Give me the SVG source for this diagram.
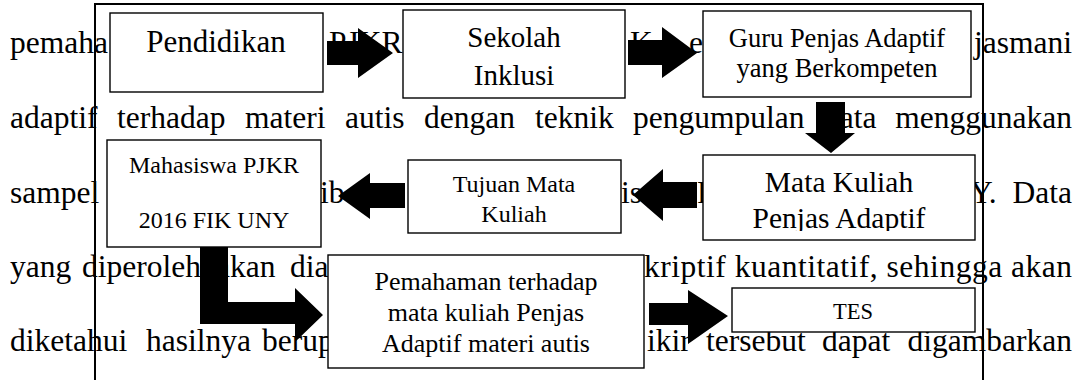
<svg xmlns="http://www.w3.org/2000/svg" width="1078" height="380" viewBox="0 0 1078 380" font-family="Liberation Serif, Times New Roman, serif">
<style>
.box{fill:#fff;stroke:#000;stroke-width:1.4}
.lbl{text-anchor:middle}
.arr{fill:#000;stroke:none}
.frame{fill:none;stroke:#000;stroke-width:2}
</style>
<defs>
<clipPath id="clipMK"><rect x="703" y="155" width="272" height="76"/></clipPath>
</defs>
<rect width="1078" height="380" fill="#fff"/>
<g id="background-text" font-family="Liberation Serif" font-size="31.5">
<text x="10" y="53">pemaha</text>
<text x="329" y="53">PJKR</text>
<text x="630" y="53">K</text>
<text x="689" y="53">e</text>
<text x="1072" y="53" text-anchor="end">jasmani</text>
<text y="128"><tspan x="10">adaptif</tspan><tspan x="117">terhadap</tspan><tspan x="245">materi</tspan><tspan x="345">autis</tspan><tspan x="424">dengan</tspan><tspan x="535">teknik</tspan><tspan x="633">pengumpulan</tspan><tspan x="824">data</tspan><tspan x="1072" text-anchor="end">menggunakan</tspan></text>
<text x="10" y="203">sampel</text>
<text x="320" y="203">ib</text>
<text x="621" y="203">is</text>
<text x="697" y="203">F</text>
<text x="970" y="203">Y.</text>
<text x="1072" y="203" text-anchor="end">Data</text>
<text y="277"><tspan x="10">yang</tspan><tspan x="82">diperoleh</tspan><tspan x="216">akan</tspan><tspan x="290">dian</tspan></text>
<text x="644" y="277" textLength="428" lengthAdjust="spacing">kriptif kuantitatif, sehingga akan</text>
<text y="351"><tspan x="10">diketahui</tspan><tspan x="146">hasilnya</tspan><tspan x="262">berup</tspan></text>
<text y="351"><tspan x="647">ikir</tspan><tspan x="706">tersebut</tspan><tspan x="822">dapat</tspan><tspan x="1072" text-anchor="end">digambarkan</tspan></text>
</g>
<path class="frame" d="M95,380 V4 H983 V380"/>
<g id="n-pendidikan"><rect class="box" x="110" y="13" width="213" height="79"/><text class="lbl" x="216" y="52" font-size="31">Pendidikan</text></g>
<g id="n-sekolah"><rect class="box" x="403" y="10" width="222" height="88"/><text class="lbl" x="514" y="47" font-size="29">Sekolah</text><text class="lbl" x="514" y="85" font-size="29">Inklusi</text></g>
<g id="n-guru"><rect class="box" x="703" y="11" width="268" height="86"/><text class="lbl" x="837" y="47" font-size="26.5">Guru Penjas Adaptif</text><text class="lbl" x="837" y="77" font-size="26.5">yang Berkompeten</text></g>
<g id="n-matakuliah"><rect class="box" x="703" y="155" width="272" height="85"/><g clip-path="url(#clipMK)"><text class="lbl" x="839" y="192" font-size="29.5">Mata Kuliah</text><text class="lbl" x="839" y="228" font-size="29.5">Penjas Adaptif</text></g></g>
<g id="n-tujuan"><rect class="box" x="408" y="160" width="213" height="73"/><text class="lbl" x="514" y="192" font-size="24">Tujuan Mata</text><text class="lbl" x="514" y="222" font-size="24">Kuliah</text></g>
<g id="n-mahasiswa"><rect class="box" x="107" y="140" width="214" height="107"/><text class="lbl" x="214" y="173" font-size="24">Mahasiswa PJKR</text><text class="lbl" x="214" y="228" font-size="24">2016 FIK UNY</text></g>
<g id="n-pemahaman"><rect class="box" x="328" y="255" width="316" height="113"/><text class="lbl" x="486" y="290" font-size="26">Pemahaman terhadap</text><text class="lbl" x="486" y="321" font-size="26">mata kuliah Penjas</text><text class="lbl" x="486" y="352" font-size="26">Adaptif materi autis</text></g>
<g id="n-tes"><rect class="box" x="732" y="288" width="243" height="44"/><text class="lbl" x="853" y="319" font-size="22.5">TES</text></g>
<g id="connectors">
<polygon class="arr" points="327,41 358,41 358,28 393,53 358,78 358,65 327,65"/>
<polygon class="arr" points="628,40 662,40 662,27 697,53 662,78 662,65 628,65"/>
<polygon class="arr" points="816,102 845,102 845,133 855,133 831,153 805,133 816,133"/>
<polygon class="arr" points="697,182 663,182 663,169 633,195 663,221 663,208 697,208"/>
<polygon class="arr" points="405,183 370,183 370,173 338,196 370,219 370,208 405,208"/>
<polygon class="arr" points="200,247 228,247 228,302 295,302 295,288 323,315 295,342 295,324 200,324"/>
<polygon class="arr" points="649,303 688,303 688,290 728,316 688,344 688,325 649,325"/>
</g>
</svg>
